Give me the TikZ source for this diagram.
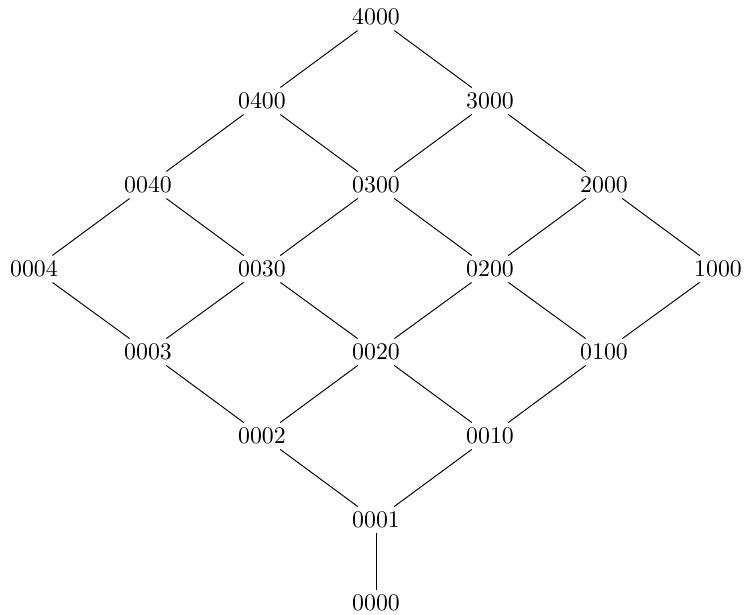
\documentclass[tikz,border=0pt]{standalone}
\begin{document}
\begin{tikzpicture}[x=0.42pt,y=-0.42pt,
  lbl/.style={inner sep=2pt, font=\fontsize{10}{12}\selectfont},
  edge/.style={draw=black, line width=0.4pt}]
\useasboundingbox (0,0) rectangle (747,615);
\node[lbl] (n4000) at (376,17) {4000};
\node[lbl] (n0400) at (262,101) {0400};
\node[lbl] (n3000) at (490,101) {3000};
\node[lbl] (n0040) at (148,185) {0040};
\node[lbl] (n0300) at (376,185) {0300};
\node[lbl] (n2000) at (604,185) {2000};
\node[lbl] (n0004) at (34,269) {0004};
\node[lbl] (n0030) at (262,269) {0030};
\node[lbl] (n0200) at (490,269) {0200};
\node[lbl] (n1000) at (718,269) {1000};
\node[lbl] (n0003) at (148,352) {0003};
\node[lbl] (n0020) at (376,352) {0020};
\node[lbl] (n0100) at (604,352) {0100};
\node[lbl] (n0002) at (262,436) {0002};
\node[lbl] (n0010) at (490,436) {0010};
\node[lbl] (n0001) at (376,520) {0001};
\node[lbl] (n0000) at (376,603) {0000};
\foreach \a/\b in {4000/0400,4000/3000,0400/0040,0400/0300,3000/0300,3000/2000,
  0040/0004,0040/0030,0300/0030,0300/0200,2000/0200,2000/1000,
  0004/0003,0030/0003,0030/0020,0200/0020,0200/0100,1000/0100,
  0003/0002,0020/0002,0020/0010,0100/0010,0002/0001,0010/0001,0001/0000}
  \draw[edge] (n\a) -- (n\b);
\end{tikzpicture}
\end{document}
